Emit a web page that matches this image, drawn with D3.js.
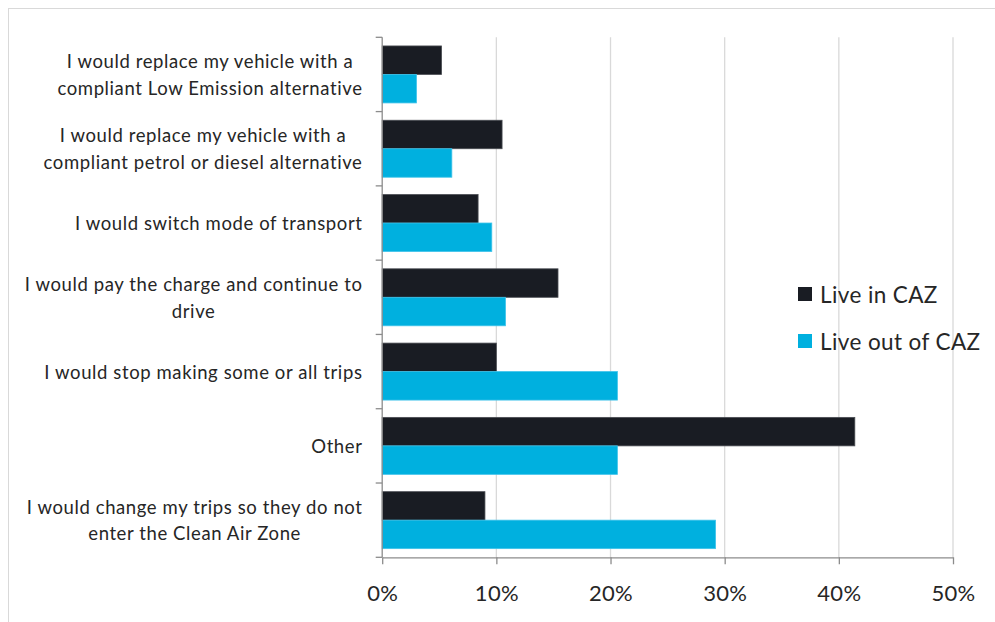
<!DOCTYPE html>
<html>
<head>
<meta charset="utf-8">
<script src="https://cdn.jsdelivr.net/npm/d3@7"></script>
<style>
  html, body { margin: 0; padding: 0; background: #fff; }
  svg { display: block; font-family: Lato, "Open Sans", sans-serif; }
</style>
</head>
<body>
<svg id="chart" width="995" height="622"></svg>
<script>
// Responses to the Clean Air Zone charge, by where the respondent lives
const categories = [
  "I would replace my vehicle with a\ncompliant Low Emission alternative",
  "I would replace my vehicle with a\ncompliant petrol or diesel alternative",
  "I would switch mode of transport",
  "I would pay the charge and continue to\ndrive",
  "I would stop making some or all trips",
  "Other",
  "I would change my trips so they do not\nenter the Clean Air Zone"
];
const seriesNames = ["Live in CAZ", "Live out of CAZ"];
const liveInCAZ    = [5.2, 10.5, 8.4, 15.4, 10.0, 41.4, 9.0];
const liveOutOfCAZ = [3.0, 6.1, 9.6, 10.8, 20.6, 20.6, 29.2];
const xTicks = [0, 10, 20, 30, 40, 50];

const colors = { "Live in CAZ": "#191c23", "Live out of CAZ": "#00b0df" };
const strokes = { "Live in CAZ": "#4a4d53", "Live out of CAZ": "#3ec3ea" };

const svg = d3.select("#chart");

// outer chart frame
svg.append("rect")
  .attr("x", 8.5).attr("y", 8.5)
  .attr("width", 1100).attr("height", 1100)
  .attr("fill", "none").attr("stroke", "#d9d9d9").attr("stroke-width", 1);

const plot = { left: 382.2, right: 953, top: 37.3, bottom: 557.3 };

const x = d3.scaleLinear().domain([0, 50]).range([plot.left, plot.right]);
const y0 = d3.scaleBand().domain(categories)
  .range([plot.top, plot.bottom]).paddingInner(0.233).paddingOuter(0.1165);
const y1 = d3.scaleBand().domain(seriesNames).range([0, y0.bandwidth()]);

// vertical gridlines
svg.append("g").selectAll("line")
  .data(xTicks.filter(t => t > 0))
  .join("line")
  .attr("x1", d => x(d)).attr("x2", d => x(d))
  .attr("y1", plot.top).attr("y2", plot.bottom)
  .attr("stroke", "#d9d9d9").attr("stroke-width", 1.3);

// bars
const rows = categories.map((c, i) => ({
  cat: c,
  vals: [
    { s: "Live in CAZ", v: liveInCAZ[i] },
    { s: "Live out of CAZ", v: liveOutOfCAZ[i] }
  ]
}));

svg.append("g").selectAll("g")
  .data(rows)
  .join("g")
  .attr("transform", d => `translate(0,${y0(d.cat)})`)
  .selectAll("rect")
  .data(d => d.vals)
  .join("rect")
  .attr("x", x(0))
  .attr("y", d => y1(d.s))
  .attr("width", d => x(d.v) - x(0))
  .attr("height", y1.bandwidth())
  .attr("fill", d => colors[d.s])
  .attr("stroke", d => strokes[d.s])
  .attr("stroke-width", 0.8);

// x axis
const xAxis = d3.axisBottom(x)
  .tickValues(xTicks)
  .tickFormat(d => d + "%")
  .tickSize(7)
  .tickPadding(21)
  .tickSizeOuter(0);

const gx = svg.append("g")
  .attr("transform", `translate(0,${plot.bottom})`)
  .call(xAxis);
gx.select(".domain").attr("stroke", "#8c8c8c").attr("stroke-width", 1.3);
gx.selectAll(".tick line").attr("stroke", "#8c8c8c").attr("stroke-width", 1.3);
gx.selectAll(".tick text")
  .attr("fill", "#262626")
  .style("font-size", "22px")
  .style("letter-spacing", "0.3px")
  .style("font-family", "Lato, sans-serif");

// y axis line with category separators
const step = y0.step();
svg.append("line")
  .attr("x1", plot.left).attr("x2", plot.left)
  .attr("y1", plot.top).attr("y2", plot.bottom)
  .attr("stroke", "#8c8c8c").attr("stroke-width", 1.3);
svg.append("g").selectAll("line")
  .data(d3.range(categories.length + 1))
  .join("line")
  .attr("x1", plot.left - 6.5).attr("x2", plot.left)
  .attr("y1", i => plot.top + i * step).attr("y2", i => plot.top + i * step)
  .attr("stroke", "#8c8c8c").attr("stroke-width", 1.3);

// category labels (multi-line labels are centred within their block)
const labelRight = 362.5;
const lineHeight = 26.5;
const labelGroup = svg.append("g")
  .style("font-size", "18.5px")
  .style("letter-spacing", "0.6px")
  .attr("fill", "#262626");

categories.forEach(c => {
  const lines = c.split("\n");
  const cy = y0(c) + y0.bandwidth() / 2;
  const t = labelGroup.append("text")
    .attr("dominant-baseline", "central");
  lines.forEach((ln, j) => {
    t.append("tspan")
      .attr("y", cy + (j - (lines.length - 1) / 2) * lineHeight)
      .text(ln);
  });
  const widths = [];
  t.selectAll("tspan").each(function () { widths.push(this.getComputedTextLength()); });
  const maxW = d3.max(widths);
  if (lines.length === 1) {
    t.attr("text-anchor", "end").selectAll("tspan").attr("x", labelRight);
  } else {
    t.attr("text-anchor", "middle").selectAll("tspan").attr("x", labelRight - maxW / 2);
  }
});

// legend
const legend = svg.append("g").attr("transform", "translate(798,281)");
const legendItems = legend.selectAll("g")
  .data(seriesNames)
  .join("g")
  .attr("transform", (d, i) => `translate(0,${i * 47})`);
legendItems.append("rect")
  .attr("x", 0).attr("y", 6)
  .attr("width", 14).attr("height", 14)
  .attr("fill", d => colors[d]);
legendItems.append("text")
  .attr("x", 22).attr("y", 13)
  .attr("dominant-baseline", "central")
  .attr("fill", "#262626")
  .style("font-size", "22.5px")
  .style("letter-spacing", "0.4px")
  .text(d => d);
</script>
</body>
</html>
